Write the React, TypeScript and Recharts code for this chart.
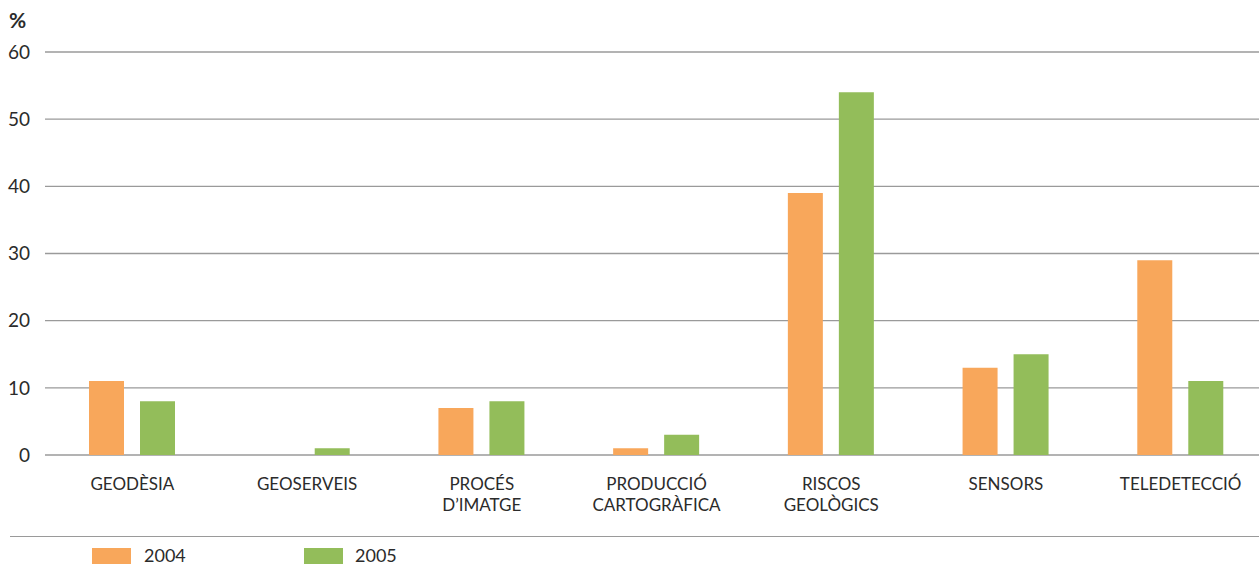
import { BarChart, Bar, XAxis, YAxis, CartesianGrid } from 'recharts'

const categories = [
  ['GEODÈSIA'],
  ['GEOSERVEIS'],
  ['PROCÉS', 'D’IMATGE'],
  ['PRODUCCIÓ', 'CARTOGRÀFICA'],
  ['RISCOS', 'GEOLÒGICS'],
  ['SENSORS'],
  ['TELEDETECCIÓ'],
]
const values2004 = [11, 0, 7, 1, 39, 13, 29]
const values2005 = [8, 1, 8, 3, 54, 15, 11]
const yTicks = [0, 10, 20, 30, 40, 50, 60]

const ORANGE = '#F8A75B'
const GREEN = '#93BD5A'
const FONT = 'Lato, "Open Sans", sans-serif'

const data = categories.map((lines, i) => ({
  name: lines.join('\n'),
  y2004: values2004[i],
  y2005: values2005[i],
}))

function CategoryTick({ x, y, payload }: { x?: number; y?: number; payload?: { value: string } }) {
  const lines = (payload?.value ?? '').split('\n')
  return (
    <text x={x} y={(y ?? 0) + 6} textAnchor="middle" fill="#2b2b2b" fontSize={17} fontFamily={FONT}>
      {lines.map((l, i) => (
        <tspan key={i} x={x} dy={21}>
          {l}
        </tspan>
      ))}
    </text>
  )
}

export default function App() {
  return (
    <div
      style={{
        position: 'absolute',
        left: 0,
        top: 0,
        width: 1259,
        height: 566,
        overflow: 'hidden',
        background: '#fff',
        fontFamily: FONT,
      }}
    >
      <div style={{ position: 'absolute', left: 9, top: 7, fontSize: 21, fontWeight: 700, color: '#2b2b2b' }}>%</div>
      <BarChart
        width={1268}
        height={566}
        data={data}
        margin={{ top: 52, right: 0, left: 0, bottom: 41 }}
        barSize={35}
        barGap={16}
      >
        <CartesianGrid vertical={false} stroke="#9a9a9a" strokeWidth={1.3} />
        <XAxis
          dataKey="name"
          axisLine={false}
          tickLine={false}
          height={70}
          interval={0}
          tick={<CategoryTick />}
        />
        <YAxis
          width={45}
          domain={[0, 60]}
          ticks={yTicks}
          axisLine={false}
          tickLine={false}
          tickMargin={9}
          tick={{ fill: '#2b2b2b', fontSize: 19, fontFamily: FONT }}
        />
        <Bar dataKey="y2004" fill={ORANGE} isAnimationActive={false} />
        <Bar dataKey="y2005" fill={GREEN} isAnimationActive={false} />
      </BarChart>
      <div style={{ position: 'absolute', left: 10, right: 0, top: 536, height: 0, borderTop: '1.3px solid #9a9a9a' }} />
      <div style={{ position: 'absolute', left: 92, top: 548, width: 39, height: 16, background: ORANGE }} />
      <div style={{ position: 'absolute', left: 144, top: 544, fontSize: 18, color: '#2b2b2b' }}>2004</div>
      <div style={{ position: 'absolute', left: 304, top: 548, width: 39, height: 16, background: GREEN }} />
      <div style={{ position: 'absolute', left: 355, top: 544, fontSize: 18, color: '#2b2b2b' }}>2005</div>
    </div>
  )
}
